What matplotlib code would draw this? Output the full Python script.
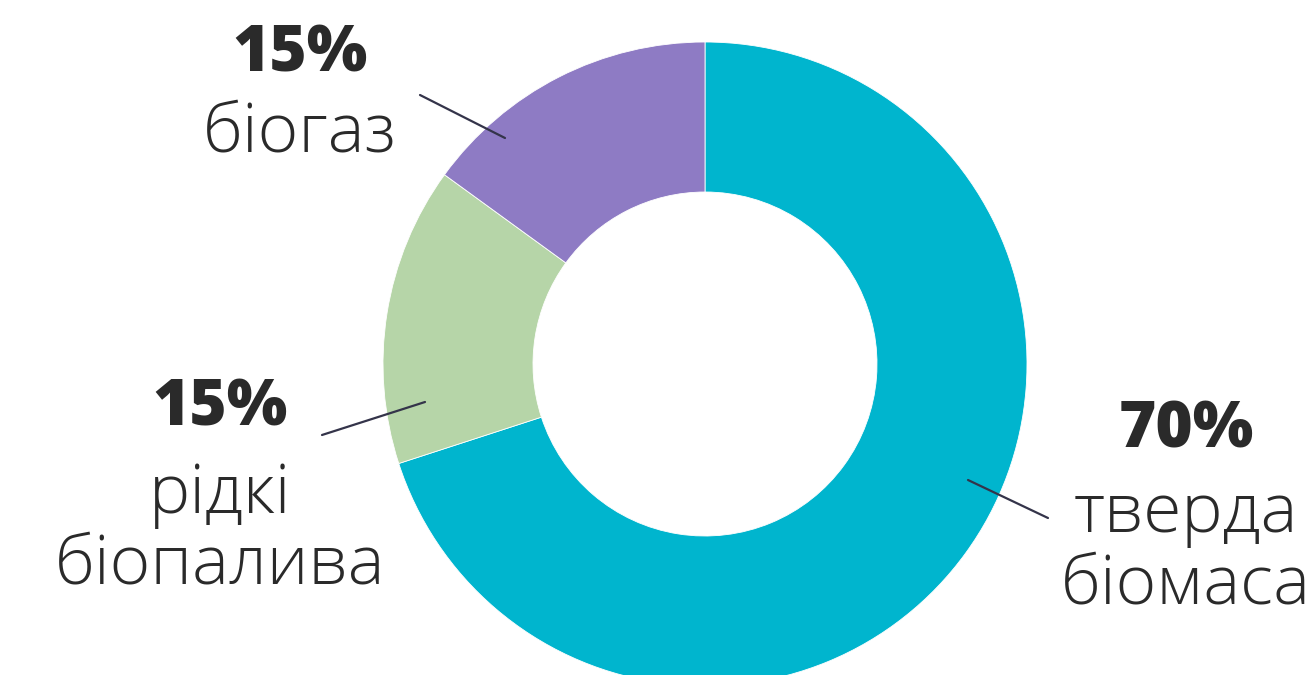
import matplotlib.pyplot as plt

shares = [70, 15, 15]
pct_labels = ["70%", "15%", "15%"]
names = ["тверда\nбіомаса", "рідкі\nбіопалива", "біогаз"]
colors = ["#00B5CE", "#B6D5A8", "#8E7BC4"]

W, H = 1316, 675

plt.rcParams['font.family'] = ['Open Sans', 'DejaVu Sans']

fig = plt.figure(figsize=(W / 100, H / 100), dpi=100)
ax = fig.add_axes([0, 0, 1, 1])


def y(py):
    # pixel row from top -> data y
    return H - py


ax.pie(shares, colors=colors, startangle=90, counterclock=False,
       center=(705, y(364)), radius=322,
       wedgeprops=dict(width=150, edgecolor="white", linewidth=0.6))

ax.set_xlim(0, W)
ax.set_ylim(0, H)
ax.set_aspect("equal")
ax.axis("off")

txt = "#2a2a2a"
line_c = "#34344a"

# label blocks: (x centre, y of pct centre, first name baseline)
blocks = [
    (1186, 430, 532),
    (220, 408, 513),
    (300, 54, 152),
]
leaders = [
    ((968, 480), (1048, 518)),
    ((322, 435), (425, 402)),
    ((420, 95), (505, 138)),
]

for (cx, py, by), pct, name, (p0, p1) in zip(blocks, pct_labels, names, leaders):
    ax.text(cx, y(py), pct, ha="center", va="center", fontsize=46,
            fontweight="heavy", color=txt)
    for i, part in enumerate(name.split("\n")):
        ax.text(cx, y(by + i * 71), part, ha="center", va="baseline",
                fontsize=50, fontweight="light", color=txt)
    ax.plot([p0[0], p1[0]], [y(p0[1]), y(p1[1])], color=line_c, lw=1.6,
            solid_capstyle="round")

fig.savefig("out.png", dpi=100)
